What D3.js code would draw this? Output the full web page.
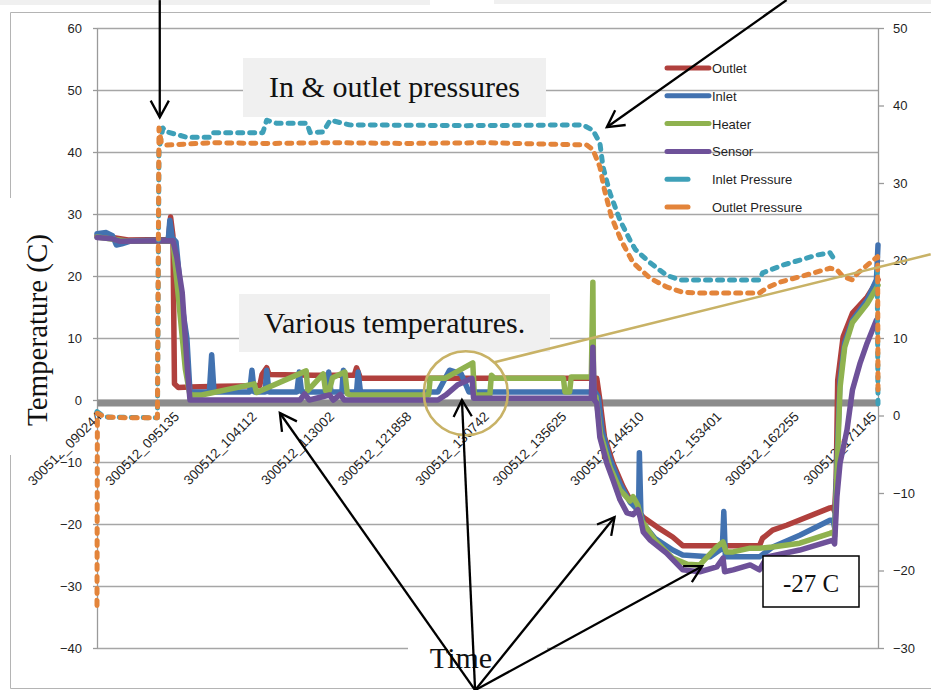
<!DOCTYPE html>
<html>
<head>
<meta charset="utf-8">
<script src="https://cdn.jsdelivr.net/npm/d3@7"></script>
<style>
  body { margin: 0; background: #fff; }
  svg text { font-family: "Liberation Sans", Arial, sans-serif; }
  .serif { font-family: "Liberation Serif", "Times New Roman", serif !important; }
</style>
</head>
<body>
<div id="chart"></div>
<script>
// category labels on the time axis (one every ~49 min of samples)
var timeLabels = ["300512_090244", "300512_095135", "300512_104112", "300512_113002",
                  "300512_121858", "300512_130742", "300512_135625", "300512_144510",
                  "300512_153401", "300512_162255", "300512_171145"];
var tempTicks = [60, 50, 40, 30, 20, 10, 0, -10, -20, -30, -40];
var pressTicks = [50, 40, 30, 20, 10, 0, -10, -20, -30];

// [position in label steps, value]
var outletTemp = [[0.00,26.5],[0.20,26.2],[0.40,25.8],[0.92,25.9],[0.95,29.5],[0.98,26.5],[1.00,2.6],
  [1.05,2.0],[1.20,2.1],[1.60,2.2],[2.10,2.3],[2.13,4.1],[2.19,5.2],[2.22,4.1],[2.80,4.0],[3.32,4.0],
  [3.35,5.2],[3.40,3.5],[4.80,3.5],[6.45,3.5],[6.49,0.0],[6.55,-6.0],[6.66,-10.2],[6.79,-14.0],
  [6.88,-16.1],[6.97,-17.7],[7.05,-18.9],[7.23,-20.5],[7.43,-22.1],[7.56,-23.5],[8.55,-23.5],
  [8.59,-22.3],[8.72,-21.0],[8.90,-20.2],[9.46,-17.4],[9.50,-17.3],[9.52,-18.0],[9.54,-12.9],
  [9.56,3.2],[9.63,10.2],[9.75,14.0],[9.94,16.6],[10.08,19.4]];

var inletTemp = [[0.00,26.8],[0.12,27.0],[0.20,26.5],[0.25,25.0],[0.32,25.2],[0.45,25.7],[0.92,25.8],
  [0.94,29.0],[0.97,26.2],[1.02,25.5],[1.10,15.0],[1.16,10.0],[1.20,1.3],[1.45,1.3],[1.48,7.3],
  [1.51,1.3],[1.97,1.3],[2.00,4.8],[2.03,1.3],[2.17,1.3],[2.19,4.8],[2.22,1.3],[2.58,1.3],[2.61,4.5],
  [2.64,1.3],[2.97,1.3],[2.99,4.5],[3.02,1.3],[3.16,1.3],[3.18,4.8],[3.21,1.3],[3.35,1.3],[3.37,4.5],
  [3.40,1.3],[4.40,1.3],[4.55,4.8],[4.70,4.2],[4.80,1.3],[6.43,1.3],[6.47,0.5],[6.52,-5.0],
  [6.62,-9.5],[6.75,-13.5],[6.88,-16.5],[6.99,-17.8],[7.00,-8.5],[7.02,-18.3],[7.05,-20.0],
  [7.20,-22.3],[7.43,-24.2],[7.56,-25.0],[7.91,-25.3],[8.04,-24.2],[8.07,-24.0],[8.09,-18.0],
  [8.11,-25.3],[8.55,-25.3],[8.72,-23.7],[9.07,-21.8],[9.46,-19.4],[9.50,-19.4],[9.52,-20.6],
  [9.55,-10.2],[9.59,3.2],[9.65,9.2],[9.75,12.9],[9.94,16.1],[10.06,19.4],[10.08,25.0]];

var heaterTemp = [[0.00,26.3],[0.40,25.6],[0.98,25.6],[1.04,18.0],[1.14,5.0],[1.20,0.8],[1.35,0.8],
  [2.03,2.6],[2.06,1.2],[2.70,4.7],[2.72,1.5],[2.92,4.2],[2.95,1.5],[3.00,1.6],[3.04,3.6],[3.20,4.5],
  [3.23,1.0],[3.28,0.8],[4.28,0.8],[4.30,3.5],[4.49,3.5],[4.85,6.0],[4.87,0.8],[5.07,0.8],[5.09,4.0],
  [5.13,3.5],[6.02,3.5],[6.04,1.3],[6.10,1.3],[6.12,3.7],[6.38,3.7],[6.40,19.0],[6.41,0.8],[6.44,0.5],
  [6.50,-5.5],[6.62,-10.8],[6.75,-14.5],[6.88,-16.3],[6.92,-15.6],[6.98,-17.0],[7.03,-19.5],
  [7.20,-22.6],[7.43,-25.5],[7.62,-26.5],[7.78,-26.6],[8.00,-23.7],[8.08,-22.9],[8.12,-24.5],
  [8.21,-24.5],[8.43,-23.9],[8.55,-23.9],[8.72,-23.7],[9.07,-23.1],[9.46,-21.5],[9.50,-21.3],
  [9.52,-22.0],[9.55,-12.0],[9.59,2.0],[9.65,8.5],[9.75,12.5],[9.94,15.5],[10.08,18.5]];

var sensorTemp = [[0.00,26.2],[0.20,26.0],[0.30,25.6],[0.98,25.7],[1.03,23.0],[1.10,17.3],[1.17,4.4],
  [1.20,0.0],[2.62,0.0],[2.68,1.0],[2.74,0.0],[3.00,0.8],[3.05,0.0],[3.14,0.9],[3.19,0.0],[4.40,0.0],
  [4.50,0.8],[4.65,2.4],[4.84,3.5],[4.86,0.3],[6.38,0.3],[6.40,8.5],[6.42,0.0],[6.45,-0.5],
  [6.49,-6.0],[6.58,-10.2],[6.66,-12.9],[6.75,-16.1],[6.84,-18.2],[6.92,-18.5],[6.98,-17.7],
  [7.01,-18.9],[7.05,-21.3],[7.14,-22.6],[7.35,-24.7],[7.56,-27.4],[7.78,-27.7],[8.00,-26.9],
  [8.08,-25.5],[8.10,-27.7],[8.21,-27.4],[8.43,-26.6],[8.55,-27.4],[8.65,-25.3],[9.07,-24.2],
  [9.50,-22.6],[9.52,-23.2],[9.55,-15.6],[9.59,-10.2],[9.68,-4.8],[9.75,1.6],[9.85,6.0],[9.94,9.2],
  [10.06,12.9]];

var inletPress = [[0.00,0.5],[0.10,-0.2],[0.78,-0.3],[0.80,34.3],[0.85,37.1],[0.90,36.6],[1.16,35.9],
  [1.46,35.9],[1.50,36.5],[2.14,36.5],[2.19,38.1],[2.32,37.7],[2.71,37.7],[2.75,36.5],[2.92,36.6],
  [3.01,38.1],[3.26,37.5],[4.77,37.4],[6.27,37.5],[6.40,36.8],[6.49,35.2],[6.53,32.1],[6.62,28.7],
  [6.75,25.2],[6.88,22.6],[6.95,21.4],[7.14,19.7],[7.35,18.1],[7.52,17.5],[8.55,17.5],[8.59,18.4],
  [8.85,19.4],[9.29,20.7],[9.46,21.0],[9.52,20.1],[9.53,null],[10.07,19.0],[10.08,1.5]];

var outletPress = [[0.00,-24.5],[0.005,0.3],[0.10,-0.2],[0.40,-0.3],[0.78,-0.3],[0.80,37.1],[0.83,35.2],
  [0.90,34.9],[1.50,35.2],[2.20,35.1],[3.00,35.2],[4.00,35.1],[5.00,35.2],[6.32,34.9],[6.40,34.3],
  [6.49,32.1],[6.55,29.1],[6.64,25.6],[6.77,22.5],[6.92,19.7],[7.14,17.7],[7.35,16.6],[7.56,15.9],
  [7.78,15.8],[8.55,15.8],[8.65,16.5],[8.81,17.2],[9.07,17.9],[9.46,19.0],[9.55,18.8],[9.63,17.9],
  [9.75,17.5],[9.82,18.4],[10.075,20.5],[10.08,2.9]];

var series = [
  {name: "Outlet", data: outletTemp, color: "#b0403d", axis: "T", dashed: false},
  {name: "Inlet", data: inletTemp, color: "#4272b0", axis: "T", dashed: false},
  {name: "Heater", data: heaterTemp, color: "#8fb24f", axis: "T", dashed: false},
  {name: "Sensor", data: sensorTemp, color: "#6e5199", axis: "T", dashed: false},
  {name: "Inlet Pressure", data: inletPress, color: "#3ea0b8", axis: "P", dashed: true},
  {name: "Outlet Pressure", data: outletPress, color: "#e3843a", axis: "P", dashed: true}
];

var W = 931, H = 690;
var svg = d3.select("#chart").append("svg").attr("width", W).attr("height", H);

var x = d3.scaleLinear().domain([0, 10.08]).range([97, 878]);
var yT = d3.scaleLinear().domain([-40, 60]).range([648, 28]);
var yP = d3.scaleLinear().domain([-30, 50]).range([648, 28]);

// slide bits
svg.append("rect").attr("x", 0).attr("y", 0).attr("width", 430).attr("height", 5).attr("fill", "#f0f0f0");
svg.append("rect").attr("x", 494).attr("y", 0).attr("width", 437).attr("height", 4).attr("fill", "#f0f0f0");
svg.append("path").attr("d", "M931,12.5H10.5V688.5H931").attr("fill", "none").attr("stroke", "#b4b4b4");

// gridlines
var grid = svg.append("g").attr("transform", "translate(97,0)")
  .call(d3.axisLeft(yT).tickValues(tempTicks).tickSize(-(878 - 97)).tickFormat(""));
grid.select(".domain").remove();
grid.selectAll("line").attr("stroke", "#a6a6a6").attr("stroke-width", 1.3);

// left axis
var gl = svg.append("g").attr("transform", "translate(97,0)")
  .call(d3.axisLeft(yT).tickValues(tempTicks).tickSize(4).tickPadding(11).tickSizeOuter(0));
gl.selectAll("path, line").attr("stroke", "#9a9a9a").attr("stroke-width", 1.3);
gl.selectAll("text").attr("fill", "#1f1f1f").style("font-size", "13px");

// right axis
var gr = svg.append("g").attr("transform", "translate(878,0)")
  .call(d3.axisRight(yP).tickValues(pressTicks).tickSize(6).tickPadding(9).tickSizeOuter(0));
gr.selectAll("path, line").attr("stroke", "#9a9a9a").attr("stroke-width", 1.3);
gr.selectAll("text").attr("fill", "#1f1f1f").style("font-size", "13px");

// time axis at zero
var gx = svg.append("g").attr("transform", "translate(0," + (yT(0) + 2.5) + ")")
  .call(d3.axisBottom(x).tickValues(d3.range(11)).tickFormat(function(i){ return timeLabels[i]; })
        .tickSize(0).tickSizeOuter(0));
gx.select(".domain").attr("stroke", "#8c8c8c").attr("stroke-width", 7);
gx.selectAll("text")
  .attr("x", 0).attr("y", 0).attr("dy", 0)
  .attr("text-anchor", "end")
  .attr("transform", "translate(5,15) rotate(-45)")
  .attr("fill", "#1f1f1f")
  .style("font-size", "13.5px");

// series
series.forEach(function(s){
  var yy = s.axis == "T" ? yT : yP;
  var line = d3.line()
    .defined(function(d){ return d[1] != null; })
    .x(function(d){ return x(d[0]); })
    .y(function(d){ return yy(d[1]); });
  svg.append("path")
    .datum(s.data)
    .attr("d", line)
    .attr("fill", "none")
    .attr("stroke", s.color)
    .attr("stroke-width", s.dashed ? 5 : 5.5)
    .attr("stroke-linejoin", "round")
    .attr("stroke-linecap", "round")
    .attr("stroke-dasharray", s.dashed ? "5,7" : null);
});

// legend
var lg = svg.append("g");
series.forEach(function(s, i){
  var ly = 68 + i * 27.8;
  lg.append("line")
    .attr("x1", 667).attr("x2", s.dashed ? 688 : 709)
    .attr("y1", ly).attr("y2", ly)
    .attr("stroke", s.color).attr("stroke-width", 5).attr("stroke-linecap", "round");
  lg.append("text").attr("x", 712).attr("y", ly + 5)
    .attr("fill", "#1f1f1f").style("font-size", "13px").text(s.name);
});

// annotations
function arrow(p1, p2) {
  var x1 = x(p1[0]), y1 = yT(p1[1]), x2 = x(p2[0]), y2 = yT(p2[1]);
  var a = Math.atan2(y2 - y1, x2 - x1), L = 19, w = 0.5;
  svg.append("line").attr("x1", x1).attr("y1", y1).attr("x2", x2).attr("y2", y2)
    .attr("stroke", "#000").attr("stroke-width", 2.3);
  svg.append("path")
    .attr("d", "M" + (x2 - L * Math.cos(a - w)) + "," + (y2 - L * Math.sin(a - w)) +
               "L" + x2 + "," + y2 +
               "L" + (x2 - L * Math.cos(a + w)) + "," + (y2 - L * Math.sin(a + w)))
    .attr("fill", "none").attr("stroke", "#000").attr("stroke-width", 2.3);
}

// label boxes
function box(bx, by, bw, bh, fill, stroke) {
  svg.append("rect").attr("x", bx).attr("y", by).attr("width", bw).attr("height", bh)
    .attr("fill", fill).attr("stroke", stroke || "none").attr("stroke-width", 1.5);
}
function label(tx, ty, size, str, anchor) {
  return svg.append("text").attr("class", "serif").attr("x", tx).attr("y", ty)
    .attr("text-anchor", anchor || "start").attr("fill", "#111")
    .style("font-size", size + "px").text(str);
}

box(243, 58, 303, 59, "#f0f0f0");
label(394.5, 97, 30, "In & outlet pressures", "middle");
box(239, 294, 311, 58, "#f0f0f0");
label(394.5, 333, 30, "Various temperatures.", "middle");

box(0, 198, 62, 257, "#fff");
svg.append("text").attr("class", "serif")
  .attr("transform", "translate(47,330) rotate(-90)")
  .attr("text-anchor", "middle").attr("fill", "#111").style("font-size", "29px")
  .text("Temperature (C)");

box(408, 630, 139, 57, "#fff");
label(461, 668, 30, "Time", "middle");

box(763, 556, 96, 51, "#fff", "#000");
label(811, 592, 25, "-27 C", "middle");

// gold circle and pointer line
var circ = [4.76, 1.1];
svg.append("circle").attr("cx", x(circ[0])).attr("cy", yT(circ[1])).attr("r", 42)
  .attr("fill", "none").attr("stroke", "#c8b266").attr("stroke-width", 2.6);
svg.append("line").attr("x1", x(5.13)).attr("y1", yT(6.1)).attr("x2", x(10.76)).attr("y2", yT(23.5))
  .attr("stroke", "#c8b266").attr("stroke-width", 2.6);

arrow([0.81, 64.5], [0.81, 45.6]);
arrow([8.90, 64.5], [6.58, 44.0]);
var fanFrom = [4.88, -46.8];
arrow(fanFrom, [2.36, -2.1]);
arrow(fanFrom, [4.71, 0.0]);
arrow(fanFrom, [6.68, -18.9]);
arrow(fanFrom, [7.81, -26.8]);
</script>
</body>
</html>
